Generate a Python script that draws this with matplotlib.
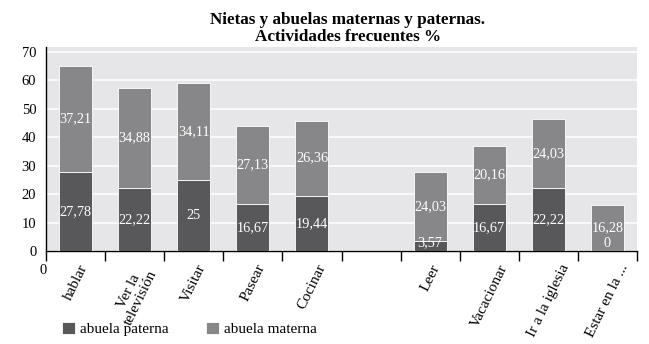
import matplotlib
matplotlib.use("Agg")
import matplotlib.pyplot as plt
import numpy as np

categories = ["hablar", "Ver la\ntelevisión", "Visitar", "Pasear", "Cocinar", "",
              "Leer", "Vacacionar", "Ir a la iglesia", "Estar en la ..."]
paterna = [27.78, 22.22, 25, 16.67, 19.44, None, 3.57, 16.67, 22.22, 0]
materna = [37.21, 34.88, 34.11, 27.13, 26.36, None, 24.03, 20.16, 24.03, 16.28]
yticks = [0, 10, 20, 30, 40, 50, 60, 70]
title = "Nietas y abuelas maternas y paternas.\nActividades frecuentes %"
legend_labels = ["abuela paterna", "abuela materna"]

c_pat = "#58585a"
c_mat = "#87878a"
bg = "#e6e6e8"

plt.rcParams["font.family"] = ["Liberation Serif", "DejaVu Serif"]

fig = plt.figure(figsize=(6.49, 3.44), dpi=100)
ax = fig.add_axes([46/649, 1 - 251/344, (637-46)/649, (251-46.7)/344])
ax.set_facecolor(bg)

n = len(categories)
x = np.arange(n)
w = 0.56
for i in range(n):
    p, m = paterna[i], materna[i]
    if p is None:
        continue
    ax.bar(x[i], p, w, color=c_pat, edgecolor="white", linewidth=0.6,
           label=legend_labels[0] if i == 0 else None, zorder=3)
    ax.bar(x[i], m, w, bottom=p, color=c_mat, edgecolor="white", linewidth=0.6,
           label=legend_labels[1] if i == 0 else None, zorder=3)
    fmt = lambda v: ("%g" % round(v, 2)).replace(".", ",")
    ax.text(x[i], max(p / 2, 2.8), fmt(p), ha="center", va="center",
            color="white", fontsize=10.3, zorder=4)
    ax.text(x[i], p + m / 2, fmt(m), ha="center", va="center",
            color="white", fontsize=10.3, zorder=4)

ax.set_xlim(-0.5, n - 0.5)
ax.set_ylim(0, 71.75)
ax.set_yticks(yticks)
ax.yaxis.grid(True, color="white", linewidth=1.1, zorder=0)
ax.set_axisbelow(True)
ax.tick_params(axis="y", length=0, pad=7, labelsize=10.5)

ax.set_xticks(np.arange(n + 1) - 0.5)
ax.set_xticklabels([])
ax.tick_params(axis="x", which="major", length=7, width=1, direction="out", color="black")
ax.set_xticks(x, minor=True)
ax.set_xticklabels(categories, minor=True, rotation=64, ha="center", va="top",
                   fontsize=11, multialignment="center", linespacing=1.0)
ax.tick_params(axis="x", which="minor", length=0, pad=8)

for s in ["top", "right"]:
    ax.spines[s].set_visible(False)
ax.spines["left"].set_linewidth(1)
ax.spines["bottom"].set_linewidth(1)

fig.text(348/649, 1 - 28.5/344, title, ha="center", va="center",
         fontsize=12.3, fontweight="bold", linespacing=1.1)
fig.text(43/649, 1 - 270/344, "0", ha="center", va="center", fontsize=10.5)

handles, labels = ax.get_legend_handles_labels()
fig.legend(handles, labels, loc="lower left", bbox_to_anchor=(62/649, 8/344),
           ncol=2, frameon=False, handlelength=0.85, handleheight=0.85,
           handletextpad=0.35, columnspacing=2.4, fontsize=11,
           borderpad=0, borderaxespad=0)

fig.savefig("out.png", dpi=100)
